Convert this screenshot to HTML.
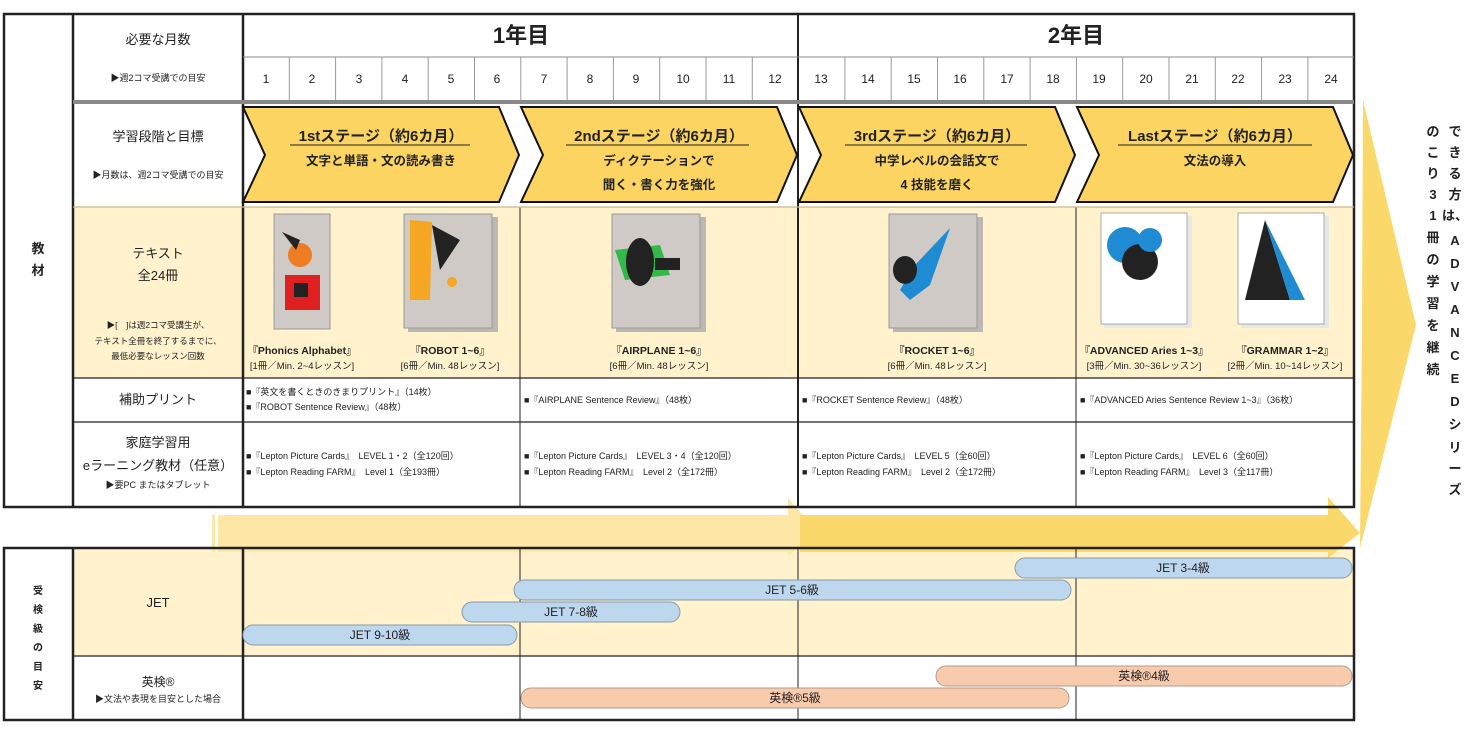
<!DOCTYPE html>
<html><head><meta charset="utf-8"><style>
html,body{margin:0;padding:0;background:#fff;}
svg{display:block;}
text{font-family:"Liberation Sans","Noto Sans CJK JP",sans-serif;fill:#222;}
.b{font-weight:bold;}
</style></head><body>
<svg width="1468" height="734" viewBox="0 0 1468 734" xmlns="http://www.w3.org/2000/svg">
<rect x="73" y="207" width="1281" height="171" fill="#fff2cc"/>
<rect x="73" y="548" width="1281" height="108" fill="#fff2cc"/>

<polygon points="218,515 788,515 788,498 818,533 788,556 788,552 218,552" fill="#fde7a6"/>
<rect x="212" y="515" width="3" height="37" fill="#fde7a6"/>
<polygon points="800,515 1328,515 1328,497 1360,533 1328,558 1328,552 800,552" fill="#fbd86a"/>
<polygon points="1363,100 1416,325 1360,548 1362,325" fill="#fbd86a"/>

<g stroke="#222" fill="none">
<rect x="4" y="14" width="1350" height="493" stroke-width="2.5"/>
<line x1="73" y1="14" x2="73" y2="507" stroke-width="2.5"/>
<line x1="243" y1="14" x2="243" y2="507" stroke-width="2.5"/>
<line x1="798" y1="14" x2="798" y2="104" stroke-width="2"/>
<line x1="243" y1="57" x2="1354" y2="57" stroke="#888" stroke-width="1"/>
<line x1="73" y1="378" x2="1354" y2="378" stroke-width="1.2"/>
<line x1="73" y1="422" x2="1354" y2="422" stroke-width="1.2"/>
<line x1="520" y1="207" x2="520" y2="507" stroke-width="1"/>
<line x1="798" y1="104" x2="798" y2="507" stroke-width="2"/>
<line x1="1076" y1="207" x2="1076" y2="507" stroke-width="1"/>
</g>
<rect x="73" y="100" width="1281" height="4" fill="#888"/>
<line x1="73" y1="207" x2="1354" y2="207" stroke="#c9b78a" stroke-width="1.2"/>
<g stroke="#999" stroke-width="1">
<line x1="289.3" y1="57" x2="289.3" y2="100"/><line x1="335.6" y1="57" x2="335.6" y2="100"/><line x1="381.9" y1="57" x2="381.9" y2="100"/><line x1="428.2" y1="57" x2="428.2" y2="100"/><line x1="474.5" y1="57" x2="474.5" y2="100"/><line x1="520.8" y1="57" x2="520.8" y2="100"/><line x1="567.1" y1="57" x2="567.1" y2="100"/><line x1="613.4" y1="57" x2="613.4" y2="100"/><line x1="659.7" y1="57" x2="659.7" y2="100"/><line x1="706" y1="57" x2="706" y2="100"/><line x1="752.3" y1="57" x2="752.3" y2="100"/><line x1="844.9" y1="57" x2="844.9" y2="100"/><line x1="891.2" y1="57" x2="891.2" y2="100"/><line x1="937.5" y1="57" x2="937.5" y2="100"/><line x1="983.8" y1="57" x2="983.8" y2="100"/><line x1="1030.1" y1="57" x2="1030.1" y2="100"/><line x1="1076.4" y1="57" x2="1076.4" y2="100"/><line x1="1122.7" y1="57" x2="1122.7" y2="100"/><line x1="1169" y1="57" x2="1169" y2="100"/><line x1="1215.3" y1="57" x2="1215.3" y2="100"/><line x1="1261.6" y1="57" x2="1261.6" y2="100"/><line x1="1307.9" y1="57" x2="1307.9" y2="100"/>
</g>

<text x="158" y="44" font-size="13" text-anchor="middle">必要な月数</text>
<text x="158" y="81" font-size="9" text-anchor="middle">▶週2コマ受講での目安</text>
<text x="521" y="43" font-size="22" class="b" text-anchor="middle">1年目</text>
<text x="1076" y="43" font-size="22" class="b" text-anchor="middle">2年目</text>
<g font-size="12" text-anchor="middle">
<text x="266" y="83">1</text><text x="312" y="83">2</text><text x="359" y="83">3</text><text x="405" y="83">4</text><text x="451" y="83">5</text><text x="497" y="83">6</text><text x="544" y="83">7</text><text x="590" y="83">8</text><text x="636" y="83">9</text><text x="683" y="83">10</text><text x="729" y="83">11</text><text x="775" y="83">12</text><text x="821" y="83">13</text><text x="868" y="83">14</text><text x="914" y="83">15</text><text x="960" y="83">16</text><text x="1007" y="83">17</text><text x="1053" y="83">18</text><text x="1099" y="83">19</text><text x="1146" y="83">20</text><text x="1192" y="83">21</text><text x="1238" y="83">22</text><text x="1285" y="83">23</text><text x="1331" y="83">24</text>
</g>

<g fill="#fbd462" stroke="#111" stroke-width="2">
<polygon points="243,107 499,107 519,155 499,202 243,202 265,155"/>
<polygon points="521,107 777,107 797,155 777,202 521,202 543,155"/>
<polygon points="799,107 1055,107 1075,155 1055,202 799,202 821,155"/>
<polygon points="1077,107 1333,107 1353,155 1333,202 1077,202 1099,155"/>
</g>
<text x="158" y="141" font-size="13" text-anchor="middle">学習段階と目標</text>
<text x="158" y="178" font-size="9" text-anchor="middle">▶月数は、週2コマ受講での目安</text>
<g class="b" text-anchor="middle">
<text x="381" y="141" font-size="15">1stステージ（約6カ月）</text>
<text x="381" y="165" font-size="12.5">文字と単語・文の読み書き</text>
<text x="659" y="141" font-size="15">2ndステージ（約6カ月）</text>
<text x="659" y="165" font-size="12.5">ディクテーションで</text>
<text x="659" y="189" font-size="12.5">聞く・書く力を強化</text>
<text x="937" y="141" font-size="15">3rdステージ（約6カ月）</text>
<text x="937" y="165" font-size="12.5">中学レベルの会話文で</text>
<text x="937" y="189" font-size="12.5">4 技能を磨く</text>
<text x="1215" y="141" font-size="15">Lastステージ（約6カ月）</text>
<text x="1215" y="165" font-size="12.5">文法の導入</text>
</g>
<line x1="290" y1="145" x2="470" y2="145" stroke="#222" stroke-width="1"/>
<line x1="566" y1="145" x2="749" y2="145" stroke="#222" stroke-width="1"/>
<line x1="845" y1="145" x2="1027" y2="145" stroke="#222" stroke-width="1"/>
<line x1="1118" y1="145" x2="1312" y2="145" stroke="#222" stroke-width="1"/>

<text x="38" y="253" font-size="13" class="b" text-anchor="middle">教</text>
<text x="38" y="275" font-size="13" class="b" text-anchor="middle">材</text>
<text x="158" y="258" font-size="13" text-anchor="middle">テキスト</text>
<text x="158" y="280" font-size="13" text-anchor="middle">全24冊</text>
<text x="158" y="328" font-size="8.5" text-anchor="middle">▶[　]は週2コマ受講生が、</text>
<text x="158" y="344" font-size="8.5" text-anchor="middle">テキスト全冊を終了するまでに、</text>
<text x="158" y="359" font-size="8.5" text-anchor="middle">最低必要なレッスン回数</text>
<text x="158" y="404" font-size="13" text-anchor="middle">補助プリント</text>
<text x="158" y="447" font-size="13" text-anchor="middle">家庭学習用</text>
<text x="158" y="470" font-size="13" text-anchor="middle">eラーニング教材（任意）</text>
<text x="158" y="488" font-size="9" text-anchor="middle">▶要PC またはタブレット</text>

<g>
<rect x="274" y="214" width="56" height="115" fill="#cfcac6" stroke="#999"/>
<circle cx="300" cy="255" r="12" fill="#ef7b22"/><path d="M282 232 L300 240 L296 250 Z" fill="#222"/>
<rect x="285" y="275" width="35" height="35" fill="#e02020"/><rect x="294" y="283" width="14" height="14" fill="#222"/>
<rect x="408" y="217" width="90" height="115" fill="#bdb8b4"/>
<rect x="404" y="214" width="88" height="114" fill="#cfcac6" stroke="#999"/>
<path d="M410 220 L432 222 L430 300 L410 300 Z" fill="#f5a623"/><path d="M432 225 L460 240 L440 270 Z" fill="#222"/><circle cx="452" cy="282" r="5" fill="#f5a623"/>
<rect x="616" y="217" width="90" height="115" fill="#bdb8b4"/>
<rect x="612" y="214" width="88" height="114" fill="#cfcac6" stroke="#999"/>
<path d="M615 250 L660 245 L670 275 L625 280 Z" fill="#33b94a"/><ellipse cx="640" cy="262" rx="14" ry="24" fill="#222"/><rect x="655" y="258" width="25" height="12" fill="#222"/>
<rect x="893" y="217" width="90" height="115" fill="#bdb8b4"/>
<rect x="889" y="214" width="88" height="114" fill="#cfcac6" stroke="#999"/>
<path d="M950 228 L930 285 L910 300 L900 290 L915 265 Z" fill="#1e8bd3"/><ellipse cx="905" cy="270" rx="12" ry="14" fill="#222"/>
<rect x="1104" y="216" width="88" height="112" fill="#e7e7e7"/>
<rect x="1101" y="213" width="86" height="111" fill="#fff" stroke="#aaa"/>
<circle cx="1125" cy="245" r="18" fill="#1e8bd3"/><circle cx="1140" cy="262" r="18" fill="#222"/><circle cx="1150" cy="240" r="12" fill="#1e8bd3"/>
<rect x="1241" y="216" width="88" height="112" fill="#e7e7e7"/>
<rect x="1238" y="213" width="86" height="111" fill="#fff" stroke="#aaa"/>
<polygon points="1265,220 1245,300 1290,300" fill="#222"/><polygon points="1265,220 1290,300 1305,300" fill="#1e8bd3"/>
</g>
<g text-anchor="middle">
<text x="302" y="354" font-size="10.5" class="b">『Phonics Alphabet』</text>
<text x="302" y="369" font-size="9.5">[1冊／Min. 2~4レッスン]</text>
<text x="450" y="354" font-size="10.5" class="b">『ROBOT 1~6』</text>
<text x="450" y="369" font-size="9.5">[6冊／Min. 48レッスン]</text>
<text x="659" y="354" font-size="10.5" class="b">『AIRPLANE 1~6』</text>
<text x="659" y="369" font-size="9.5">[6冊／Min. 48レッスン]</text>
<text x="937" y="354" font-size="10.5" class="b">『ROCKET 1~6』</text>
<text x="937" y="369" font-size="9.5">[6冊／Min. 48レッスン]</text>
<text x="1144" y="354" font-size="10.5" class="b">『ADVANCED Aries 1~3』</text>
<text x="1144" y="369" font-size="9.5">[3冊／Min. 30~36レッスン]</text>
<text x="1285" y="354" font-size="10.5" class="b">『GRAMMAR 1~2』</text>
<text x="1285" y="369" font-size="9.5">[2冊／Min. 10~14レッスン]</text>
</g>

<g font-size="9">
<text x="246" y="395">■『英文を書くときのきまりプリント』（14枚）</text>
<text x="246" y="410">■『ROBOT Sentence Review』（48枚）</text>
<text x="524" y="403">■『AIRPLANE Sentence Review』（48枚）</text>
<text x="802" y="403">■『ROCKET Sentence Review』（48枚）</text>
<text x="1080" y="403">■『ADVANCED Aries Sentence Review 1~3』（36枚）</text>
<text x="246" y="459">■『Lepton Picture Cards』　LEVEL 1・2（全120回）</text>
<text x="246" y="475">■『Lepton Reading FARM』　Level 1（全193冊）</text>
<text x="524" y="459">■『Lepton Picture Cards』　LEVEL 3・4（全120回）</text>
<text x="524" y="475">■『Lepton Reading FARM』　Level 2（全172冊）</text>
<text x="802" y="459">■『Lepton Picture Cards』　LEVEL 5（全60回）</text>
<text x="802" y="475">■『Lepton Reading FARM』　Level 2（全172冊）</text>
<text x="1080" y="459">■『Lepton Picture Cards』　LEVEL 6（全60回）</text>
<text x="1080" y="475">■『Lepton Reading FARM』　Level 3（全117冊）</text>
</g>

<g font-size="13" class="b" text-anchor="middle">
<text x="1455" y="136">で</text><text x="1455" y="157">き</text><text x="1455" y="178">る</text><text x="1455" y="199">方</text><text x="1455" y="220">は、</text><text x="1455" y="245">A</text><text x="1455" y="268">D</text><text x="1455" y="291">V</text><text x="1455" y="314">A</text><text x="1455" y="337">N</text><text x="1455" y="360">C</text><text x="1455" y="383">E</text><text x="1455" y="406">D</text><text x="1455" y="429">シ</text><text x="1455" y="452">リ</text><text x="1455" y="473">ー</text><text x="1455" y="494">ズ</text>
<text x="1433" y="136">の</text><text x="1433" y="157">こ</text><text x="1433" y="178">り</text><text x="1433" y="199">3</text><text x="1433" y="220">1</text><text x="1433" y="242">冊</text><text x="1433" y="264">の</text><text x="1433" y="286">学</text><text x="1433" y="308">習</text><text x="1433" y="330">を</text><text x="1433" y="352">継</text><text x="1433" y="374">続</text>
</g>

<g stroke="#222" fill="none">
<rect x="4" y="548" width="1350" height="172" stroke-width="2.5"/>
<line x1="73" y1="548" x2="73" y2="720" stroke-width="2.5"/>
<line x1="243" y1="548" x2="243" y2="720" stroke-width="2.5"/>
<line x1="73" y1="656" x2="1354" y2="656" stroke-width="1.2"/>
<line x1="520" y1="548" x2="520" y2="720" stroke-width="1"/>
<line x1="798" y1="548" x2="798" y2="720" stroke-width="1"/>
<line x1="1076" y1="548" x2="1076" y2="720" stroke-width="1"/>
</g>
<g font-size="10" class="b" text-anchor="middle">
<text x="38" y="594">受</text><text x="38" y="613">検</text><text x="38" y="632">級</text><text x="38" y="651">の</text><text x="38" y="670">目</text><text x="38" y="689">安</text>
</g>
<text x="158" y="607" font-size="13" text-anchor="middle">JET</text>
<text x="158" y="686" font-size="12" text-anchor="middle">英検®</text>
<text x="158" y="702" font-size="9" text-anchor="middle">▶文法や表現を目安とした場合</text>

<g stroke="#8a9aa8" stroke-width="1" fill="#bdd7ee">
<rect x="1015" y="558" width="337" height="20" rx="10"/>
<rect x="514" y="580" width="557" height="20" rx="10"/>
<rect x="462" y="602" width="218" height="20" rx="10"/>
<rect x="243" y="625" width="274" height="20" rx="10"/>
</g>
<g stroke="#b49888" stroke-width="1" fill="#f8cbad">
<rect x="936" y="666" width="416" height="20" rx="10"/>
<rect x="521" y="688" width="548" height="20" rx="10"/>
</g>
<g font-size="12" text-anchor="middle">
<text x="1183" y="572">JET 3-4級</text>
<text x="792" y="594">JET 5-6級</text>
<text x="571" y="616">JET 7-8級</text>
<text x="380" y="639">JET 9-10級</text>
<text x="1144" y="680">英検®4級</text>
<text x="795" y="702">英検®5級</text>
</g>
</svg>
</body></html>
